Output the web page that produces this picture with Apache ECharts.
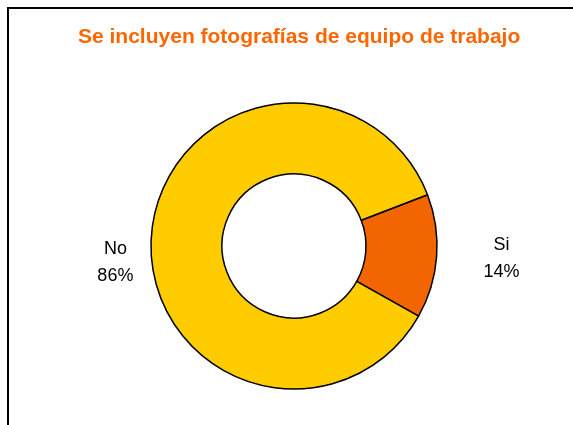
<!DOCTYPE html>
<html>
<head>
<meta charset="utf-8">
<script src="https://cdn.jsdelivr.net/npm/echarts@6/dist/echarts.min.js"></script>
<style>
  html, body { margin: 0; padding: 0; background: #fff; }
  #chart { width: 573px; height: 425px; }
</style>
</head>
<body>
<div id="chart"></div>
<script>
const categories = ['Si', 'No']
const values = [14, 86]
const sliceColors = ['#F26500', '#FFCC00']
// label line lengths per slice (labels sit at different distances)
const lineLengths = [30, 1]
// extra top padding pushes the "No" label down to where it sits in the original
const labelPadTop = [0, 54]

const chart = echarts.init(document.getElementById('chart'))

const data = categories.map(function (name, i) {
  return {
    name: name,
    value: values[i],
    itemStyle: { color: sliceColors[i] },
    label: { padding: [labelPadTop[i], 0, 0, 0] },
    labelLine: { show: false, length: lineLengths[i], length2: 5 }
  }
})

const option = {
  animation: false,
  title: {
    text: 'Se incluyen fotografías de equipo de trabajo',
    left: 73,
    top: 22,
    padding: 5,
    textStyle: {
      fontFamily: 'Liberation Sans, Arial, sans-serif',
      fontSize: 21,
      fontWeight: 'bold',
      color: '#FF6600'
    }
  },
  graphic: [{
    type: 'rect',
    shape: { x: 8, y: 8, width: 620, height: 460 },
    style: { fill: 'none', stroke: '#000', lineWidth: 2 },
    silent: true
  }],
  series: [{
    type: 'pie',
    center: [294, 246],
    radius: [72, 143],
    startAngle: 21,
    clockwise: true,
    data: data,
    itemStyle: {
      borderColor: '#000',
      borderWidth: 1.5
    },
    label: {
      show: true,
      position: 'outside',
      formatter: '{t|{b}}\n{t|{d}%}',
      rich: {
        t: {
          width: 50,
          align: 'center',
          fontFamily: 'Liberation Sans, Arial, sans-serif',
          fontSize: 18,
          lineHeight: 27,
          color: '#000'
        }
      }
    }
  }]
}

chart.setOption(option)
</script>
</body>
</html>
